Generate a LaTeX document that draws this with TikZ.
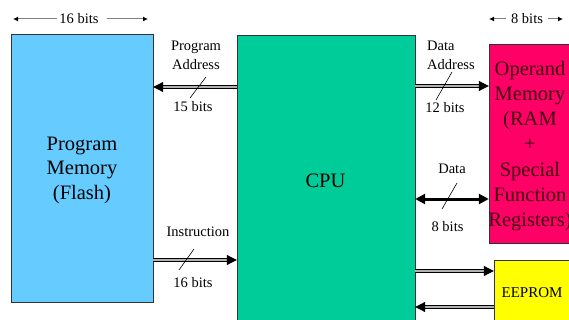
\documentclass[tikz,border=0pt]{standalone}
\usepackage{fontspec}
\setmainfont{LiberationSerif}[Extension=.ttf, UprightFont=*-Regular, BoldFont=*-Bold]
\usetikzlibrary{arrows.meta}
\definecolor{pmblue}{HTML}{66CCFF}
\definecolor{cpugreen}{HTML}{00CC99}
\definecolor{ramred}{HTML}{FF0066}
\definecolor{ramtext}{HTML}{40000F}
\definecolor{eeyellow}{HTML}{FFFF00}
\definecolor{edge}{HTML}{333333}
\tikzset{
  blockbox/.style={draw=edge, line width=0.8pt, inner sep=0pt},
  bigtext/.style={font=\fontsize{20.5}{24.5}\selectfont, align=center, inner sep=0pt},
  lbl/.style={font=\fontsize{14.5}{19}\selectfont, inner sep=0pt},
  bus/.style={draw=black, line width=1pt, double=gray!60, double distance=1.3pt},
  bustip/.style={-{Triangle[length=10pt,width=10pt]}},
  solidbus/.style={draw=black, line width=3pt, {Triangle[length=10pt,width=10pt]}-{Triangle[length=10pt,width=10pt]}},
  slashmark/.style={draw=black, line width=0.6pt},
  widthline/.style={draw=gray, line width=1pt, -{Latex[length=5pt,width=5pt,black]}},
}
\begin{document}
\begin{tikzpicture}[x=1pt,y=-1pt]
\useasboundingbox (0,0) rectangle (569,320);
\begin{scope}
\clip (0,0) rectangle (569,320);
% blocks
\path[blockbox, fill=pmblue] (11,34) rectangle (153,302);
\node (pm) at (82,168) [minimum width=142pt, minimum height=268pt] {};
\path[blockbox, fill=cpugreen] (237,35) rectangle (415,330);
\node (cpu) at (326,182) [minimum width=178pt, minimum height=295pt] {};
\path[blockbox, fill=ramred] (489,44) rectangle (575,243);
\node (ram) at (532,143.5) [minimum width=86pt, minimum height=199pt] {};
\path[blockbox, fill=eeyellow] (494,260) rectangle (575,330);
\node (ee) at (534.5,295) [minimum width=81pt, minimum height=70pt] {};
\end{scope}
% block texts
\node[bigtext] (pmtxt) at (82,170) {Program\\Memory\\(Flash)};
\node[bigtext] (cputxt) at (325.5,181) {CPU};
\node[bigtext, text=ramtext, font=\fontsize{20.5}{25.2}\selectfont] (ramtxt) at (530,146) {Operand\\Memory\\(RAM\\+\\Special\\Function\\Registers)};
\node[lbl, font=\fontsize{15}{18}\selectfont] (eetxt) at (532,293) {EEPROM};
% width markers
\node[lbl] (w16) at (79,19) {16 bits};
\coordinate (w16l) at (13,19);
\coordinate (w16r) at (148,19);
\draw[widthline] (w16.west) ++(-2,0) -- (w16l);
\draw[widthline] (w16.east) ++(8,0) -- (w16r);
\node[lbl] (w8) at (527,19) {8 bits};
\coordinate (w8l) at (489,19);
\coordinate (w8r) at (563,19);
\draw[widthline] (w8.west) ++(-5,0) -- (w8l);
\draw[widthline] (w8.east) ++(5,0) -- (w8r);
% program address
\draw[bus, bustip] (cpu.west |- 0,87) -- (pm.east |- 0,87);
\node[lbl, align=center] (paddr) at (196,55) {Program\\Address};
\node[lbl] (pa15) at (193,107) {15 bits};
\draw[slashmark] (206,77) -- (190,98);
% instruction
\draw[bus, bustip] (pm.east |- 0,260) -- (cpu.west |- 0,260);
\node[lbl] (instr) at (198,232) {Instruction};
\node[lbl] (in16) at (193,283) {16 bits};
\draw[slashmark] (194,249) -- (179,270);
% data address
\draw[bus, bustip] (cpu.east |- 0,86) -- (ram.west |- 0,86);
\node[lbl, align=left, anchor=west] (daddr) at (427,55) {Data\\Address};
\node[lbl] (da12) at (445,108) {12 bits};
\draw[slashmark] (452,72) -- (436,100);
% data
\draw[solidbus] (cpu.east |- 0,199) -- (ram.west |- 0,199);
\node[lbl] (dlbl) at (452,169) {Data};
\node[lbl] (d8) at (447.5,227) {8 bits};
\draw[slashmark] (457,183) -- (442,209);
% eeprom
\draw[bus, bustip] (cpu.east |- 0,271) -- (ee.west |- 0,271);
\draw[bus, bustip] (ee.west |- 0,307) -- (cpu.east |- 0,307);
\end{tikzpicture}
\end{document}
